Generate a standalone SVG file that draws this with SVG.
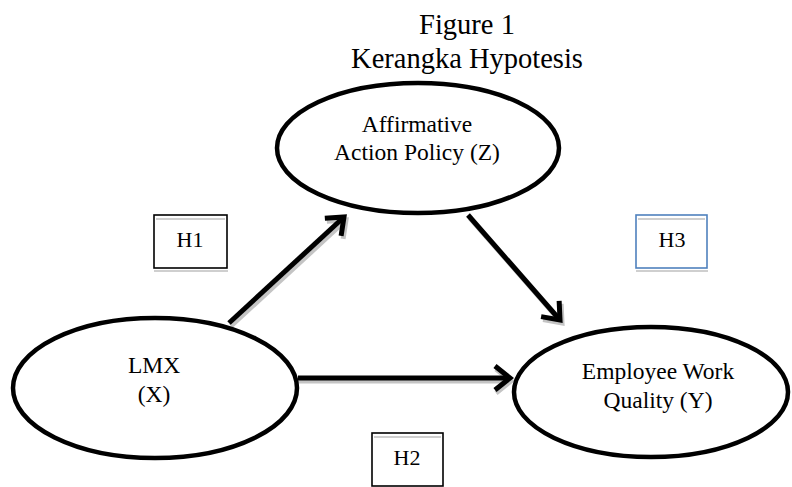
<svg xmlns="http://www.w3.org/2000/svg" width="792" height="487" viewBox="0 0 792 487">
<defs>
<style>
.title{font-family:"Liberation Serif","Times New Roman",serif;font-size:28.5px;fill:#000;text-anchor:middle}
.nt{font-family:"Liberation Serif","Times New Roman",serif;font-size:23.5px;fill:#000;text-anchor:middle}
.ht{font-family:"Liberation Serif","Times New Roman",serif;font-size:22px;fill:#000;text-anchor:middle}
.ell{fill:#fff;stroke:#000;stroke-width:4.5}
.box{fill:#fff;stroke:#000;stroke-width:1.6}
.boxb{fill:#fff;stroke:#4f81bd;stroke-width:1.6}
.gl{stroke:#cfcfcf;stroke-width:2.2}
.edge{fill:none;stroke:#000;stroke-width:5}
.shadow{fill:none;stroke:#c4c4c4;stroke-width:5}
</style>
<marker id="chev" markerUnits="userSpaceOnUse" markerWidth="40" markerHeight="40" refX="0" refY="0" viewBox="-20 -20 40 40" orient="auto" overflow="visible">
<path d="M -15 -12 L 0 0 L -15 12" fill="none" stroke="#000" stroke-width="5" stroke-linejoin="miter"/>
</marker>
<marker id="chevs" markerUnits="userSpaceOnUse" markerWidth="40" markerHeight="40" refX="0" refY="0" viewBox="-20 -20 40 40" orient="auto" overflow="visible">
<path d="M -15 -12 L 0 0 L -15 12" fill="none" stroke="#c4c4c4" stroke-width="5" stroke-linejoin="miter"/>
</marker>
</defs>
<rect width="792" height="487" fill="#fff"/>
<g id="title">
<text class="title" x="467" y="34">Figure 1</text>
<text class="title" x="467" y="68">Kerangka Hypotesis</text>
</g>
<g id="connectors">
<line class="shadow" x1="231" y1="326" x2="346" y2="220" marker-end="url(#chevs)"/>
<line class="shadow" x1="470" y1="218" x2="562" y2="323" marker-end="url(#chevs)"/>
<line class="shadow" x1="299" y1="381" x2="511" y2="381" marker-end="url(#chevs)"/>
<line class="edge" x1="229" y1="323" x2="344" y2="217" marker-end="url(#chev)"/>
<line class="edge" x1="468" y1="215" x2="560" y2="320" marker-end="url(#chev)"/>
<line class="edge" x1="298" y1="378" x2="510" y2="378" marker-end="url(#chev)"/>
</g>
<g id="node-z">
<ellipse class="ell" cx="418" cy="148" rx="141" ry="65"/>
<text class="nt" x="417" y="132">Affirmative</text>
<text class="nt" x="417" y="160">Action Policy (Z)</text>
</g>
<g id="node-x">
<ellipse class="ell" cx="155" cy="388" rx="142" ry="70"/>
<text class="nt" x="154" y="373">LMX</text>
<text class="nt" x="154" y="402">(X)</text>
</g>
<g id="node-y">
<ellipse class="ell" cx="651" cy="392" rx="137" ry="65"/>
<text class="nt" x="658" y="379">Employee Work</text>
<text class="nt" x="658" y="408">Quality (Y)</text>
</g>
<g id="h1">
<line class="gl" x1="154" y1="271" x2="228" y2="271"/>
<rect class="box" x="154" y="215" width="73" height="53"/>
<line class="gl" x1="156" y1="219" x2="225" y2="219"/>
<text class="ht" x="190" y="247">H1</text>
</g>
<g id="h3">
<line class="gl" x1="636" y1="271" x2="708" y2="271"/>
<rect class="boxb" x="636" y="215" width="71" height="53"/>
<line class="gl" x1="638" y1="219" x2="705" y2="219"/>
<text class="ht" x="672" y="247">H3</text>
</g>
<g id="h2">
<rect class="box" x="372" y="433" width="71" height="53"/>
<line class="gl" x1="374" y1="437" x2="441" y2="437"/>
<text class="ht" x="407" y="465">H2</text>
</g>
</svg>
